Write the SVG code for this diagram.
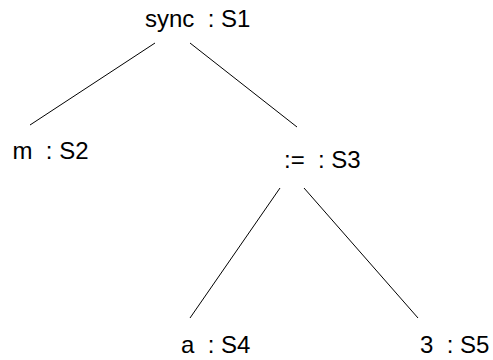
<svg xmlns="http://www.w3.org/2000/svg" width="493" height="360" viewBox="0 0 493 360">
<style>
text{font-family:"Liberation Sans",Arial,sans-serif;font-size:24px;fill:#000}
line{stroke:#000;stroke-width:1}
</style>
<rect width="493" height="360" fill="#fff"/>
<g id="connectors">
<line x1="155" y1="43" x2="30" y2="125"/>
<line x1="190" y1="43" x2="297" y2="127"/>
<line x1="280" y1="188" x2="190" y2="318"/>
<line x1="304" y1="188" x2="418" y2="318"/>
</g>
<g id="S1"><text x="145" y="27" xml:space="preserve">sync  : S1</text></g>
<g id="S2"><text x="12.5" y="159" xml:space="preserve">m  : S2</text></g>
<g id="S3"><text x="284" y="168" xml:space="preserve">:=  : S3</text></g>
<g id="S4"><text x="181" y="353" xml:space="preserve">a  : S4</text></g>
<g id="S5"><text x="420" y="353" xml:space="preserve">3  : S5</text></g>
</svg>
